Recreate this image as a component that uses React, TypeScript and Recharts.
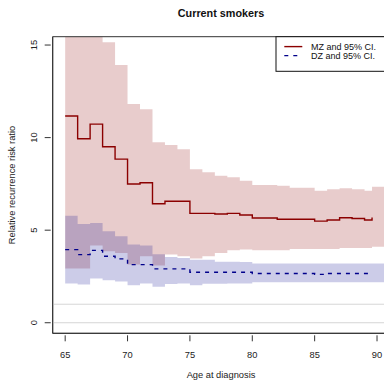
import React from 'react';
import { ComposedChart, Area, Line, XAxis, YAxis, ReferenceLine, ReferenceArea } from 'recharts';

// age steps (last two points: end of the estimate and end of the bands)
const ages = [65, 66, 67, 68, 69, 70, 71, 72, 73, 74, 75, 76, 77, 78, 79, 80, 81, 82, 83, 84, 85, 86, 87, 88, 89, 89.6, 91];

const mzRatio = [11.17, 9.94, 10.73, 9.51, 8.84, 7.49, 7.56, 6.43, 6.56, 6.56, 5.91, 5.91, 5.87, 5.91, 5.82, 5.66, 5.66, 5.59, 5.59, 5.59, 5.49, 5.55, 5.67, 5.63, 5.55, 5.69, null];
const mzLower = [2.93, 2.93, 4.17, 3.86, 3.77, 3.14, 3.59, 3.09, 3.68, 3.59, 3.47, 3.59, 3.77, 3.91, 3.95, 3.91, 3.91, 3.91, 3.99, 3.99, 3.99, 3.99, 4.04, 4.04, 4.04, 4.1, 4.1];
const mzUpper = [17, 17, 17, 15.15, 13.92, 11.82, 11.53, 9.75, 9.6, 9.37, 8.29, 8.13, 7.94, 7.86, 7.67, 7.44, 7.44, 7.4, 7.29, 7.29, 7.13, 7.21, 7.26, 7.21, 7.13, 7.35, 7.35];

const dzRatio = [3.95, 3.68, 3.91, 3.59, 3.45, 3.14, 3.14, 2.91, 2.91, 2.91, 2.73, 2.73, 2.73, 2.73, 2.73, 2.66, 2.66, 2.66, 2.66, 2.66, 2.61, 2.66, 2.66, 2.66, 2.66, 2.66, null];
const dzLower = [2.12, 2.07, 2.39, 2.3, 2.23, 2.02, 2.12, 1.95, 2.09, 2.12, 2.03, 2.1, 2.1, 2.12, 2.12, 2.19, 2.19, 2.19, 2.19, 2.19, 2.19, 2.19, 2.19, 2.19, 2.19, 2.19, 2.19];
const dzUpper = [5.78, 5.33, 5.39, 4.94, 4.67, 4.22, 4.17, 3.7, 3.55, 3.5, 3.4, 3.4, 3.3, 3.3, 3.28, 3.2, 3.2, 3.2, 3.2, 3.2, 3.2, 3.2, 3.2, 3.2, 3.2, 3.2, 3.2];

const xTicks = [65, 70, 75, 80, 85, 90];
const yTicks = [0, 5, 10, 15];

const FONT = '"Liberation Sans", Arial, Helvetica, sans-serif';
const MZ_COL = '#8B0000';
const DZ_COL = '#00008B';

const data = ages.map((age, i) => ({
  age,
  mz: mzRatio[i],
  dz: dzRatio[i],
  mzBand: [mzLower[i], mzUpper[i]],
  dzBand: [dzLower[i], dzUpper[i]],
}));

const YTick = (props: any) => {
  const { x, y, payload } = props;
  return (
    <g>
      <line x1={x} x2={x + 6} y1={y} y2={y} stroke="#333" />
      <text
        transform={`translate(${x - 8}, ${y}) rotate(-90)`}
        textAnchor="middle"
        fontSize={9.3}
        fontFamily={FONT}
        fill="#222"
      >
        {payload.value}
      </text>
    </g>
  );
};

const XTick = (props: any) => {
  const { x, y, payload } = props;
  return (
    <g>
      <line x1={x} x2={x} y1={y - 6} y2={y} stroke="#333" />
      <text x={x} y={y + 17} textAnchor="middle" fontSize={9.3} fontFamily={FONT} fill="#222">
        {payload.value}
      </text>
    </g>
  );
};

export default function App() {
  return (
    <div style={{ position: 'absolute', left: 0, top: 0, width: 384, height: 380, overflow: 'hidden', background: '#fff' }}>
      <ComposedChart
        width={400}
        height={380}
        data={data}
        margin={{ top: 36.7, right: 10.5, bottom: 0, left: 0 }}
      >
        <XAxis
          dataKey="age"
          type="number"
          domain={[64, 91]}
          ticks={xTicks}
          height={46.7}
          axisLine={{ stroke: '#333' }}
          tickLine={false}
          tickSize={6}
          tick={<XTick />}
          allowDataOverflow
        />
        <YAxis
          type="number"
          domain={[-0.57, 15.45]}
          ticks={yTicks}
          width={52.7}
          axisLine={{ stroke: '#333' }}
          tickLine={false}
          tickSize={6}
          tick={<YTick />}
          allowDataOverflow
        />
        <ReferenceLine y={0} stroke="#d6d6d6" strokeWidth={1} ifOverflow="visible" />
        <ReferenceLine y={1} stroke="#d6d6d6" strokeWidth={1} ifOverflow="visible" />
        <Area
          type="stepAfter"
          dataKey="mzBand"
          stroke="none"
          fill={MZ_COL}
          fillOpacity={0.2}
          isAnimationActive={false}
          activeDot={false}
        />
        <Area
          type="stepAfter"
          dataKey="dzBand"
          stroke="none"
          fill={DZ_COL}
          fillOpacity={0.2}
          isAnimationActive={false}
          activeDot={false}
        />
        <Line
          type="stepAfter"
          dataKey="mz"
          stroke={MZ_COL}
          strokeWidth={1.4}
          dot={false}
          activeDot={false}
          isAnimationActive={false}
        />
        <Line
          type="stepAfter"
          dataKey="dz"
          stroke={DZ_COL}
          strokeWidth={1.4}
          strokeDasharray="4 5"
          dot={false}
          activeDot={false}
          isAnimationActive={false}
        />
        <ReferenceArea
          x1={64}
          x2={91}
          y1={-0.57}
          y2={15.45}
          fill="none"
          stroke="#333"
          strokeWidth={1}
          ifOverflow="visible"
        />
      </ComposedChart>
      <svg width={384} height={380} style={{ position: 'absolute', left: 0, top: 0, pointerEvents: 'none' }}>
        <text x={221} y={17} textAnchor="middle" fontSize={10.8} fontWeight="bold" fontFamily={FONT} fill="#111">
          Current smokers
        </text>
        <text x={221} y={378} textAnchor="middle" fontSize={9.3} fontFamily={FONT} fill="#222">
          Age at diagnosis
        </text>
        <text
          transform="translate(15, 185) rotate(-90)"
          textAnchor="middle"
          fontSize={9.3}
          fontFamily={FONT}
          fill="#222"
        >
          Relative recurrence risk ratio
        </text>
        <rect x={276} y={36.7} width={120} height={34.6} fill="#fff" stroke="#111" strokeWidth={1} />
        <line x1={284.3} x2={302.3} y1={46.6} y2={46.6} stroke={MZ_COL} strokeWidth={1.4} />
        <line x1={284.3} x2={302.3} y1={55.6} y2={55.6} stroke={DZ_COL} strokeWidth={1.4} strokeDasharray="4 5" />
        <text x={311} y={49.8} fontSize={9} fontFamily={FONT} fill="#111">MZ and 95% CI.</text>
        <text x={311} y={58.8} fontSize={9} fontFamily={FONT} fill="#111">DZ and 95% CI.</text>
      </svg>
    </div>
  );
}
